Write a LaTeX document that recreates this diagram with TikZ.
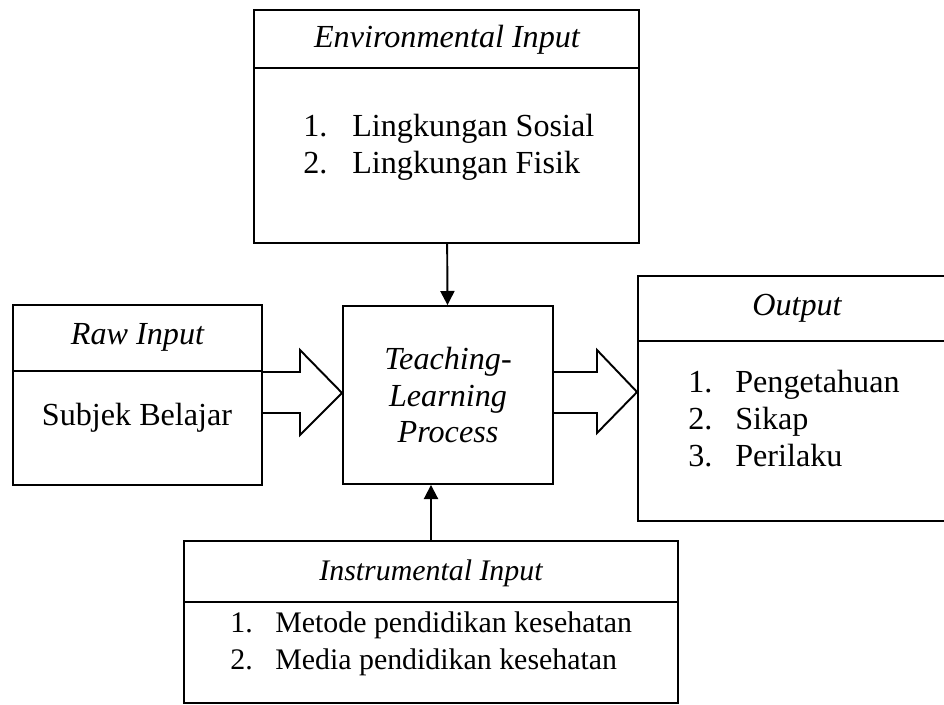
\documentclass[tikz,border=0pt]{standalone}
\usepackage{fontspec}
\setmainfont{Liberation Serif}
\usetikzlibrary{arrows.meta, positioning}

\begin{document}
\begin{tikzpicture}[x=0.02cm, y=-0.02cm,
    every node/.style={font=\fontsize{18.3}{21}\selectfont},
    panel/.style={draw, line width=1.1pt, inner sep=0pt},
    heading/.style={font=\fontsize{18.3}{21}\selectfont\itshape},
    small/.style={font=\fontsize{17}{21}\selectfont},
    smallheading/.style={font=\fontsize{17}{21}\selectfont\itshape},
    numlist/.style={anchor=west, align=left, inner sep=0pt},
    divider/.style={line width=0.6pt},
    thinarrow/.style={-{Triangle[length=8pt,width=8pt]}, line width=1.1pt},
    blockarrow/.style={line width=1.1pt, line join=miter}]

    \useasboundingbox (0,0) rectangle (944,704);

    % boxes
    \node[panel, minimum width=7.7cm, minimum height=4.66cm] (env) at (446.5,126.5) {};
    \node[panel, minimum width=4.98cm, minimum height=3.6cm] (raw) at (137.5,395) {};
    \node[panel, heading, align=center, minimum width=4.2cm, minimum height=3.56cm] (proc) at (448,395) {Teaching-\\Learning\\Process};
    \node[panel, minimum width=6.36cm, minimum height=4.9cm] (out) at (797,398.5) {};
    \node[panel, minimum width=9.88cm, minimum height=3.24cm] (instr) at (431,622) {};

    % header lines
    \draw[divider] (env.west |- 0,68) -- (env.east |- 0,68);
    \draw[divider] (raw.west |- 0,371) -- (raw.east |- 0,371);
    \draw[divider] (out.west |- 0,341) -- (out.east |- 0,341);
    \draw[divider] (instr.west |- 0,602) -- (instr.east |- 0,602);

    % titles
    \node[heading] (envtitle) at (447,40) {Environmental Input};
    \node[heading] (rawtitle) at (137.5,337) {Raw Input};
    \node[heading] (outtitle) at (797,308) {Output};
    \node[smallheading] (instrtitle) at (431,573) {Instrumental Input};

    % contents
    \node[numlist] (envlist) at (303,148) {\begin{tabular}{@{}p{0.98cm}@{}l@{}}
        1. & Lingkungan Sosial\\
        2. & Lingkungan Fisik
    \end{tabular}};
    \node (rawtext) at (137,418) {Subjek Belajar};
    \node[numlist] (outlist) at (688,422) {\begin{tabular}{@{}p{0.94cm}@{}l@{}}
        1. & Pengetahuan\\
        2. & Sikap\\
        3. & Perilaku
    \end{tabular}};
    \node[numlist, small] (instrlist) at (230,644) {\begin{tabular}{@{}p{0.9cm}@{}l@{}}
        1. & Metode pendidikan kesehatan\\
        2. & Media pendidikan kesehatan
    \end{tabular}};

    % arrows
    \draw[thinarrow] (env) -- (proc);
    \draw[thinarrow] (instr.north) -- (instr.north |- proc.south);

    \draw[blockarrow] (raw.east |- 0,372) -- (300,372) -- (300,350)
        -- (proc.west |- 0,393) -- (300,435) -- (300,413) -- (raw.east |- 0,413);
    \draw[blockarrow] (proc.east |- 0,372) -- (597,372) -- (597,350)
        -- (out.west |- 0,392) -- (597,433) -- (597,413) -- (proc.east |- 0,413);

\end{tikzpicture}
\end{document}
